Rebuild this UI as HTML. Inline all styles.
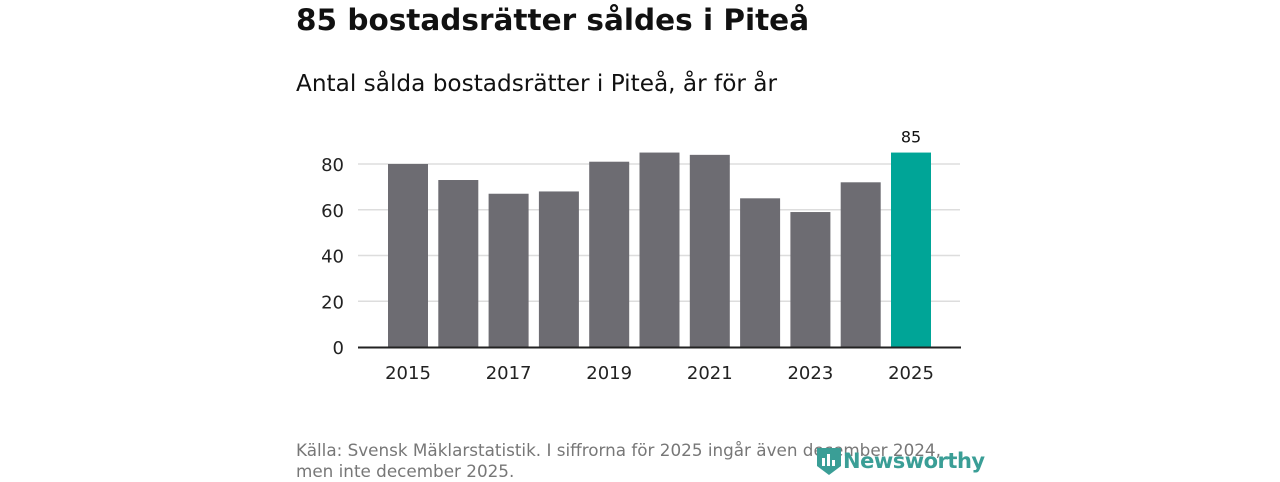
<!DOCTYPE html>
<html><head><meta charset="utf-8"><style>
body{margin:0;width:1280px;height:480px;background:#fff;font-family:"DejaVu Sans","Liberation Sans",sans-serif;overflow:hidden;position:relative}
.t{position:absolute;left:296px;color:#111}
</style></head><body>
<div class="t" style="top:3px;font-size:29.5px;font-weight:bold">85 bostadsrätter såldes i Piteå</div>
<div class="t" style="top:70px;font-size:23.2px">Antal sålda bostadsrätter i Piteå, år för år</div>
<svg id="c" width="1280" height="480" style="position:absolute;left:0;top:0"></svg>
<div class="t" style="top:440px;font-size:16.8px;color:#777;line-height:21px">Källa: Svensk Mäklarstatistik. I siffrorna för 2025 ingår även december 2024,<br>men inte december 2025.</div>
<div style="position:absolute;left:816px;top:446px;display:flex;align-items:center;color:#3a9e96;font-size:21px;font-weight:bold">
<svg width="26" height="30"><path d="M1 2h24v18l-12 9l-12-9z" fill="#3a9e96"/><rect x="6" y="12" width="3" height="8" fill="#fff"/><rect x="11" y="8" width="3" height="12" fill="#fff"/><rect x="16" y="14" width="3" height="6" fill="#fff"/></svg><span style="margin-left:1px;letter-spacing:-0.5px">Newsworthy</span></div>
<script>
const years=[2015,2016,2017,2018,2019,2020,2021,2022,2023,2024,2025];
const values=[80,73,67,68,81,85,84,65,59,72,85];
const yTicks=[0,20,40,60,80];
const svg=document.getElementById('c');const NS='http://www.w3.org/2000/svg';
const y=v=>347-v*2.2875, x=i=>408+i*50.3;
function mk(t,a){const e=document.createElementNS(NS,t);for(const k in a)e.setAttribute(k,a[k]);svg.appendChild(e);return e;}
yTicks.forEach(v=>{
 if(v>0){const l=mk('line',{x1:358,x2:960,y1:y(v),y2:y(v),stroke:'#ddd','stroke-width':1.5});
 
 }
 const t=mk('text',{x:344,y:y(v)+7,'text-anchor':'end','font-size':18,fill:'#222','font-family':'DejaVu Sans, sans-serif'});t.textContent=v;
 
 
});
values.forEach((v,i)=>{
 const last=i===values.length-1;
 const r=mk('rect',{x:x(i)-20,y:y(v),width:40,height:347-y(v),fill:last?'#00a597':'#6d6c72'});
 
 
 if(i%2===0){const t=mk('text',{x:x(i),y:379,'text-anchor':'middle','font-size':18,fill:'#222','font-family':'DejaVu Sans, sans-serif'});t.textContent=years[i];
 
 }
 if(last){const t=mk('text',{x:x(i),y:y(v)-10,'text-anchor':'middle','font-size':16,fill:'#111','font-family':'DejaVu Sans, sans-serif'});t.textContent=v;
 
 }
});
const ax=mk('line',{x1:358,x2:961,y1:347.5,y2:347.5,stroke:'#222','stroke-width':2});


</script>
</body></html>
